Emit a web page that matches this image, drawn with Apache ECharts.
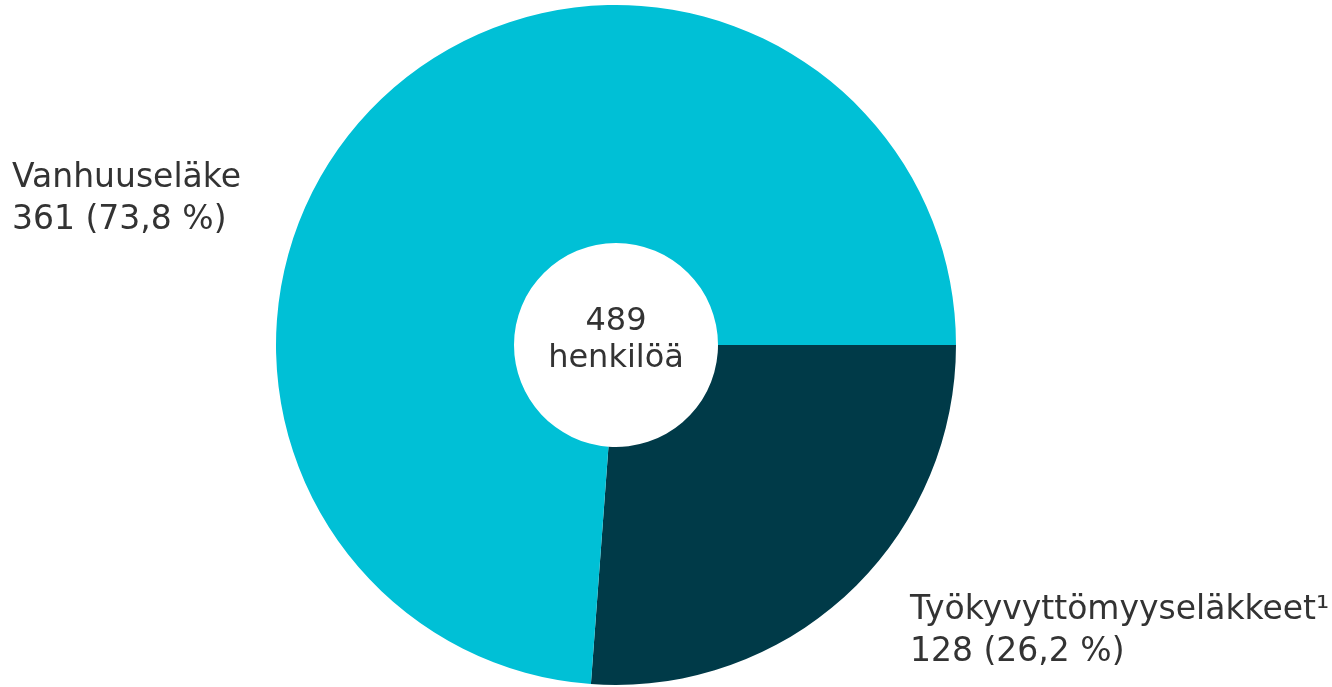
<!DOCTYPE html>
<html>
<head>
<meta charset="utf-8">
<script src="https://cdn.jsdelivr.net/npm/echarts@6/dist/echarts.min.js"></script>
<style>
  html, body { margin: 0; padding: 0; background: #fff; }
  #chart { width: 1332px; height: 687px; }
</style>
</head>
<body>
<div id="chart"></div>
<script>
const categories = ['Työkyvyttömyyseläkkeet¹', 'Vanhuuseläke'];
const values = [128, 361];
const colors = ['#003a48', '#00c0d6'];
// Where each label sits (left, top), same order as categories
const labelSpots = [[910, 589], [12, 157]];

const total = values.reduce((a, b) => a + b, 0);
const fontFamily = 'DejaVu Sans, Verdana, sans-serif';
const textColor = '#333333';

const pieChart = echarts.init(document.getElementById('chart'));

function pct(v) {
  return (v / total * 100).toFixed(1).replace('.', ',');
}

pieChart.setOption({
  animation: false,
  color: colors,
  series: [
    {
      type: 'pie',
      center: [616, 345],
      radius: [102, 340],
      startAngle: 0,
      clockwise: true,
      silent: true,
      data: categories.map((name, i) => ({ name: name, value: values[i] })),
      label: {
        show: true,
        position: 'outside',
        fontFamily: fontFamily,
        fontSize: 33,
        lineHeight: 42,
        color: textColor,
        formatter: p => `${p.name}\n${p.value} (${pct(p.value)} %)`
      },
      labelLine: { show: false },
      labelLayout: params => ({
        x: labelSpots[params.dataIndex][0],
        y: labelSpots[params.dataIndex][1],
        align: 'left',
        verticalAlign: 'top',
        hideOverlap: false
      })
    }
  ],
  graphic: [
    {
      type: 'text',
      z: 100,
      style: {
        text: `${total}\nhenkilöä`,
        x: 616,
        y: 340,
        textAlign: 'center',
        textVerticalAlign: 'middle',
        fontFamily: fontFamily,
        fontSize: 32,
        lineHeight: 37,
        fill: textColor
      }
    }
  ]
});
</script>
</body>
</html>
